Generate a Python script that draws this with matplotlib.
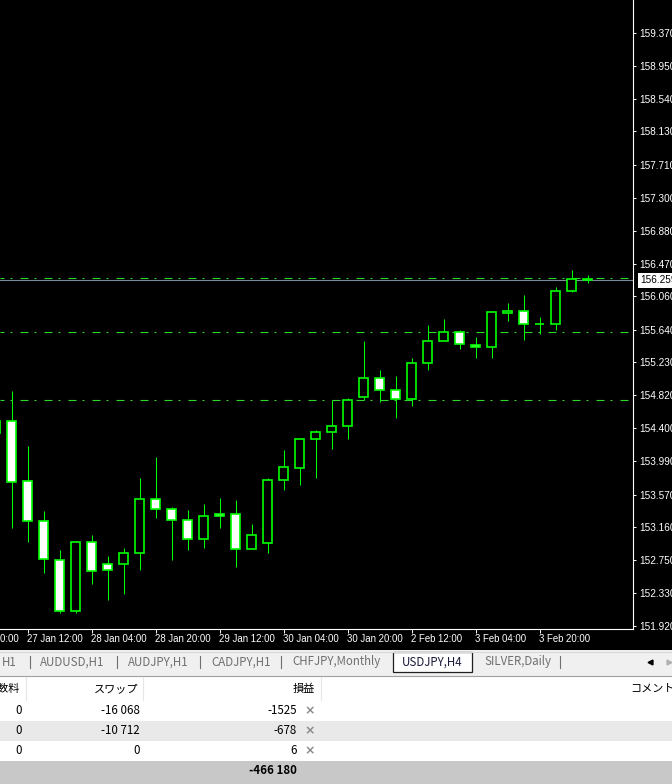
import matplotlib
matplotlib.use("Agg")
import matplotlib.pyplot as plt
from matplotlib.patches import Rectangle
from matplotlib.transforms import blended_transform_factory

plt.rcParams['font.family'] = ['Liberation Sans', 'DejaVu Sans']
plt.rcParams['lines.scale_dashes'] = False

# ---------------- data ----------------
bar_idx = list(range(-1, 37))
opens = [154.341, 154.492, 153.742, 153.235, 152.745, 152.105, 152.972, 152.695, 152.695, 152.833,
         153.512, 153.386, 153.248, 153.009, 153.323, 153.323, 152.884, 152.959, 153.750, 153.901,
         154.265, 154.353, 154.429, 154.793, 155.032, 154.881, 154.768, 155.220, 155.497, 155.610,
         155.454, 155.421, 155.850, 155.874, 155.710, 155.710, 156.125, 156.283]
highs = [154.560, 154.872, 154.181, 153.365, 152.875, 152.984, 153.063, 152.799, 152.900, 153.779,
         154.043, 153.415, 153.377, 153.453, 153.528, 153.503, 153.201, 153.776, 154.131, 154.278,
         154.382, 154.755, 154.781, 155.500, 155.136, 155.061, 155.287, 155.701, 155.777, 155.639,
         155.551, 155.877, 155.978, 156.078, 155.802, 156.179, 156.389, 156.330]
lows = [154.250, 153.155, 152.979, 152.590, 152.080, 152.080, 152.451, 152.250, 152.326, 152.627,
        153.281, 152.753, 152.879, 152.904, 153.155, 152.665, 152.884, 152.841, 153.632, 153.695,
        153.783, 154.147, 154.273, 154.755, 154.738, 154.537, 154.688, 155.132, 155.497, 155.396,
        155.291, 155.291, 155.755, 155.517, 155.592, 155.639, 156.112, 156.225]
closes = [154.492, 153.725, 153.235, 152.758, 152.105, 152.972, 152.607, 152.620, 152.833, 153.512,
          153.386, 153.248, 153.009, 153.298, 153.298, 152.884, 153.059, 153.754, 153.914, 154.265,
          154.353, 154.429, 154.755, 155.032, 154.881, 154.768, 155.220, 155.497, 155.610, 155.459,
          155.421, 155.861, 155.874, 155.710, 155.710, 156.125, 156.283, 156.259]

level_lines = [156.290, 155.608, 154.754]
bid_price = 156.259

y_tick_values = [159.370, 158.950, 158.540, 158.130, 157.710, 157.300, 156.880, 156.470, 156.060,
                 155.640, 155.230, 154.820, 154.400, 153.990, 153.570, 153.160, 152.750, 152.330, 151.920]
x_tick_bars = [-3, 1, 5, 9, 13, 17, 21, 25, 29, 33]
x_tick_labels = ["26 Jan 20:00", "27 Jan 12:00", "28 Jan 04:00", "28 Jan 20:00", "29 Jan 12:00",
                 "30 Jan 04:00", "30 Jan 20:00", "2 Feb 12:00", "3 Feb 04:00", "3 Feb 20:00"]

tab_names = ["H1", "AUDUSD,H1", "AUDJPY,H1", "CADJPY,H1", "CHFJPY,Monthly", "USDJPY,H4", "SILVER,Daily"]
active_tab = "USDJPY,H4"
col_headers = ["手数料", "スワップ", "損益", "コメント"]
commission = ["0", "0", "0"]
swap = ["-16 068", "-10 712", "0"]
profit = ["-1525", "-678", "6"]
total_profit = "-466 180"

# ---------------- figure ----------------
W, H = 672, 784
fig = plt.figure(figsize=(W / 100, H / 100), dpi=100)
fig.patch.set_facecolor('white')

bg = fig.add_axes([0, 0, 1, 1], zorder=0)
bg.set_xlim(0, W)
bg.set_ylim(H, 0)
bg.axis('off')

GREEN = '#00ff00'
LGREEN = '#2ed82e'

# black chart window
bg.add_patch(Rectangle((0, 0), W, 650, fc='black', ec='none'))

# chart axes
ax_left, ax_right, ax_bottom_px = 0, 633, 629
ax = fig.add_axes([ax_left / W, (H - ax_bottom_px) / H, (ax_right - ax_left) / W, ax_bottom_px / H], zorder=1)
ax.set_facecolor('black')
px_per_bar = 16.0
x0_px = 11.7
ax.set_xlim(-x0_px / px_per_bar, (ax_right - x0_px) / px_per_bar)
ppu = 79.64
ax.set_ylim(151.920 - 3 / ppu, 151.920 + 626 / ppu)

for s in ['top', 'left']:
    ax.spines[s].set_visible(False)
for s in ['bottom', 'right']:
    ax.spines[s].set_color('white')
    ax.spines[s].set_linewidth(0.8)

# candles
w = 0.55
for x, o, h, l, c in zip(bar_idx, opens, highs, lows, closes):
    ax.vlines(x, l, h, color=GREEN, lw=0.75, zorder=2)
    if abs(o - c) < 1e-9:
        ax.hlines(o, x - w / 2, x + w / 2, color=GREEN, lw=1.2, zorder=3)
    else:
        fc = 'white' if c < o else 'black'
        ax.add_patch(Rectangle((x - w / 2, min(o, c)), w, abs(c - o), fc=fc, ec=GREEN,
                               lw=1.2, zorder=3, joinstyle='miter'))

# level lines
for lv in level_lines:
    ax.axhline(lv, color=LGREEN, lw=0.8, linestyle=(2.9, (5.76, 4.32, 1.44, 5.76)), zorder=1.5)
ax.axhline(bid_price, color='#778899', lw=0.8, zorder=1.6)

# y axis right
ax.yaxis.tick_right()
ax.set_yticks(y_tick_values)
ax.set_yticklabels([f"{v:.3f}" for v in y_tick_values])
ax.tick_params(axis='y', direction='out', length=2.3, width=0.7, color='white',
               labelcolor='white', labelsize=7.2, pad=2.0)

# current price box
ytr = blended_transform_factory(ax.transAxes, ax.transData)
ax.text(1.0 + 7 / 633, bid_price, f"{bid_price:.3f}", transform=ytr, ha='left', va='center',
        fontsize=7.2, color='black', clip_on=False, zorder=5,
        bbox=dict(boxstyle='square,pad=0.22', fc='white', ec='none'))

# x axis
in_range = [b for b in x_tick_bars if ax.get_xlim()[0] <= b <= ax.get_xlim()[1]]
ax.set_xticks(in_range)
ax.set_xticklabels([])
ax.tick_params(axis='x', direction='out', length=3.0, width=0.7, color='white')
for b, lab in zip(x_tick_bars, x_tick_labels):
    ax.annotate(lab, xy=(b, 0), xycoords=('data', 'axes fraction'), xytext=(-0.4, -3.6),
                textcoords='offset points', ha='left', va='top', fontsize=6.9, color='white',
                annotation_clip=False)

# ---------------- bottom panel ----------------
JP = ['Noto Sans CJK JP', 'DejaVu Sans']
bg.add_patch(Rectangle((0, 650), W, 26, fc='#f0f0f0', ec='none'))
bg.plot([0, W], [651.5, 651.5], color='#d8d8d8', lw=0.8)
bg.plot([0, W], [675.5, 675.5], color='#a0a0a0', lw=0.8)

tab_x = [2, 40, 128, 211, 292, 432, 484]
sep_x = [30, 117, 200, 281, 560]
for name, tx in zip(tab_names, tab_x):
    if name == active_tab:
        bg.add_patch(Rectangle((393, 652), 79, 19.5, fc='white', ec='#202020', lw=0.9))
        bg.text(tx, 662, name, ha='center', va='center', fontsize=8.3, color='#1a1a3a', family=JP)
    else:
        bg.text(tx, 662, name, ha='left', va='center', fontsize=8.3, color='#707070', family=JP)
for sx in sep_x:
    bg.plot([sx, sx], [656, 668], color='#707070', lw=0.8)
bg.plot([650], [662], marker='<', ms=3.5, color='black', ls='none')
bg.plot([669], [662], marker='>', ms=3.5, color='#b0b0b0', ls='none')

# table rows
bg.add_patch(Rectangle((0, 676.5), W, 24, fc='white', ec='none'))
bg.add_patch(Rectangle((0, 700.5), W, 20.5, fc='white', ec='none'))
bg.add_patch(Rectangle((0, 721), W, 20, fc='#e9e9e9', ec='none'))
bg.add_patch(Rectangle((0, 741), W, 20, fc='white', ec='none'))
bg.add_patch(Rectangle((0, 761), W, 23, fc='#c8c8c8', ec='none'))
for cx in [26, 143, 321]:
    bg.plot([cx, cx], [677, 700], color='#e6e6e6', lw=0.8)

hdr_x = [20, 138, 315, 630]
hdr_ha = ['right', 'right', 'right', 'left']
for t, hx, ha in zip(col_headers, hdr_x, hdr_ha):
    bg.text(hx, 689, t, ha=ha, va='center', fontsize=8.0, color='black', family=JP)

row_y = [711, 731, 751]
for ry, cval, sval, pval in zip(row_y, commission, swap, profit):
    bg.text(22, ry, cval, ha='right', va='center', fontsize=8.3, color='black', family=JP)
    bg.text(140, ry, sval, ha='right', va='center', fontsize=8.3, color='black', family=JP)
    bg.text(297, ry, pval, ha='right', va='center', fontsize=8.3, color='black', family=JP)
    bg.text(310, ry, '×', ha='center', va='center', fontsize=9, color='#8a8a8a',
            family=['DejaVu Sans'], fontweight='bold')
bg.text(297, 771, total_profit, ha='right', va='center', fontsize=8.3, color='black',
        family=JP, fontweight='bold')

fig.savefig('out.png', dpi=100, facecolor=fig.get_facecolor())
